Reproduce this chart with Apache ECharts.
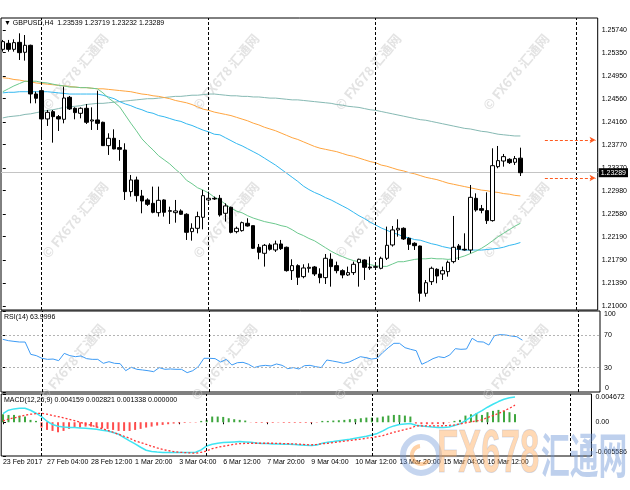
<!DOCTYPE html>
<html><head><meta charset="utf-8">
<script src="https://cdn.jsdelivr.net/npm/echarts@6/dist/echarts.min.js"></script>
<style>html,body{margin:0;padding:0;background:#fff}#c{width:630px;height:490px}</style>
</head><body><div id="c"></div>
<script>
// ---------- DATA ----------
const timeLabels = ['23 Feb 2017','27 Feb 04:00','28 Feb 12:00','1 Mar 20:00','3 Mar 04:00','6 Mar 12:00','7 Mar 20:00','9 Mar 04:00','10 Mar 12:00','13 Mar 20:00','15 Mar 04:00','16 Mar 12:00'];
const barsPerLabel = 8;
const opens = [1.25408,1.25511,1.25408,1.25528,1.25357,1.25477,1.24641,1.24698,1.24212,1.24338,
 1.24252,1.24206,1.24584,1.24395,1.24309,1.24395,1.24177,1.24195,1.24155,1.23754,
 1.23880,1.23720,1.23679,1.22964,1.23164,1.22889,1.22821,1.22763,1.22603,1.22821,
 1.22626,1.22603,1.22632,1.22575,1.22277,1.22334,1.22523,1.22821,1.22849,1.22849,
 1.22592,1.22695,1.22277,1.22294,1.22420,1.22380,1.22008,1.21905,1.22048,1.21962,
 1.22065,1.22008,1.21607,1.21693,1.21504,1.21647,1.21670,1.21550,1.21487,1.21802,
 1.21693,1.21607,1.21533,1.21573,1.21745,1.21790,1.21670,1.21664,1.21647,1.21819,
 1.22048,1.22306,1.22334,1.22162,1.22077,1.22030,1.21218,1.21418,1.21630,1.21550,
 1.21590,1.21762,1.22031,1.21974,1.21962,1.22849,1.22672,1.22638,1.22466,1.23393,
 1.23490,1.23519,1.23468,1.23539];
const highs = [1.25569,1.25569,1.25580,1.25683,1.25654,1.25488,1.24681,1.24710,1.24366,1.24366,
 1.24280,1.24767,1.24607,1.24412,1.24412,1.24469,1.24412,1.24698,1.24166,1.23966,
 1.24034,1.23851,1.23794,1.23250,1.23221,1.22993,1.22849,1.23050,1.23050,1.22832,
 1.22706,1.22821,1.22660,1.22592,1.22420,1.22620,1.22993,1.22964,1.22878,1.22907,
 1.22763,1.22706,1.22363,1.22449,1.22506,1.22380,1.22065,1.22065,1.22077,1.22122,
 1.22134,1.22020,1.21802,1.21716,1.21716,1.21733,1.21687,1.21647,1.21893,1.21905,
 1.21762,1.21630,1.21676,1.21762,1.21813,1.21802,1.21847,1.21704,1.21847,1.22363,
 1.22374,1.22489,1.22351,1.22180,1.22094,1.22036,1.21446,1.21676,1.21647,1.21676,
 1.21779,1.22546,1.22065,1.22248,1.23078,1.22935,1.22735,1.22952,1.23708,1.23748,
 1.23611,1.23536,1.23576,1.23719];
const lows = [1.25368,1.25368,1.25368,1.25225,1.25214,1.24481,1.24481,1.23897,1.24092,1.23805,
 1.24006,1.24137,1.24366,1.24206,1.24223,1.24126,1.24023,1.24023,1.23748,1.23594,
 1.23691,1.23494,1.22821,1.22878,1.22792,1.22592,1.22718,1.22592,1.22535,1.22535,
 1.22409,1.22431,1.22563,1.22134,1.22122,1.22248,1.22317,1.22792,1.22821,1.22535,
 1.22449,1.22248,1.22248,1.22277,1.22363,1.21979,1.21802,1.21676,1.21951,1.21928,
 1.21962,1.21590,1.21447,1.21361,1.21476,1.21573,1.21515,1.21390,1.21378,1.21332,
 1.21561,1.21476,1.21515,1.21533,1.21332,1.21447,1.21619,1.21642,1.21630,1.21790,
 1.22020,1.22191,1.22134,1.21962,1.21962,1.21074,1.21160,1.21361,1.21390,1.21447,
 1.21504,1.21733,1.21790,1.21951,1.21905,1.22620,1.22592,1.22409,1.22449,1.23365,
 1.23393,1.23439,1.23422,1.23232];
const closes = [1.25540,1.25408,1.25523,1.25351,1.25477,1.24641,1.24567,1.24212,1.24326,1.24252,
 1.24212,1.24572,1.24384,1.24321,1.24395,1.24155,1.24195,1.24137,1.23754,1.23880,
 1.23697,1.23691,1.22964,1.23164,1.22895,1.22803,1.22746,1.22609,1.22815,1.22609,
 1.22638,1.22632,1.22575,1.22265,1.22334,1.22535,1.22895,1.22849,1.22838,1.22563,
 1.22718,1.22265,1.22334,1.22431,1.22374,1.21991,1.21922,1.22042,1.21974,1.22065,
 1.21985,1.21607,1.21693,1.21493,1.21653,1.21664,1.21550,1.21487,1.21819,1.21676,
 1.21607,1.21533,1.21573,1.21716,1.21802,1.21664,1.21653,1.21676,1.21819,1.22042,
 1.22306,1.22334,1.22151,1.22059,1.22036,1.21218,1.21400,1.21647,1.21515,1.21607,
 1.21750,1.22008,1.21974,1.21962,1.22866,1.22649,1.22643,1.22466,1.23410,1.23496,
 1.23565,1.23462,1.23531,1.23289];
const maGreen = [1.2468,1.2473,1.2478,1.2482,1.2486,1.2486,1.2486,1.2484,1.2483,1.2481,
 1.2479,1.2478,1.2476,1.2476,1.2475,1.2475,1.2474,1.2473,1.2466,1.2457,
 1.2450,1.2442,1.2428,1.2414,1.2401,1.2387,1.2377,1.2368,1.2358,1.2351,
 1.2344,1.2335,1.2327,1.2316,1.2310,1.2303,1.2299,1.2294,1.2287,1.2282,
 1.2275,1.2268,1.2263,1.2260,1.2255,1.2251,1.2248,1.2245,1.2243,1.2241,
 1.2238,1.2236,1.2231,1.2225,1.2221,1.2216,1.2212,1.2206,1.2200,1.2194,
 1.2189,1.2185,1.2181,1.2178,1.2176,1.2174,1.2171,1.2169,1.2168,1.2168,
 1.2172,1.2176,1.2176,1.2178,1.2180,1.2181,1.2181,1.2182,1.2181,1.2181,
 1.2180,1.2181,1.2183,1.2186,1.2190,1.2194,1.2199,1.2205,1.2212,1.2219,
 1.2225,1.2231,1.2237,1.2242];
const maBlue = [1.2466,1.2467,1.2467,1.2468,1.2468,1.2468,1.2468,1.2468,1.2468,1.2467,
 1.2466,1.2465,1.2464,1.2464,1.2464,1.2464,1.2464,1.2464,1.2462,1.2459,
 1.2456,1.2451,1.2447,1.2444,1.2440,1.2437,1.2433,1.2431,1.2427,1.2425,
 1.2422,1.2419,1.2417,1.2413,1.2410,1.2406,1.2402,1.2399,1.2395,1.2394,
 1.2389,1.2384,1.2379,1.2375,1.2370,1.2365,1.2360,1.2354,1.2348,1.2342,
 1.2335,1.2328,1.2321,1.2314,1.2306,1.2300,1.2295,1.2291,1.2286,1.2282,
 1.2277,1.2272,1.2267,1.2261,1.2255,1.2250,1.2244,1.2239,1.2234,1.2230,
 1.2226,1.2223,1.2219,1.2217,1.2214,1.2213,1.2210,1.2207,1.2205,1.2202,
 1.2200,1.2198,1.2197,1.2196,1.2196,1.2196,1.2196,1.2197,1.2198,1.2199,
 1.2201,1.2204,1.2206,1.2209];
const maOrange = [1.2492,1.2491,1.2489,1.2488,1.2486,1.2485,1.2483,1.2482,1.2481,1.2480,
 1.2479,1.2478,1.2477,1.2476,1.2475,1.2475,1.2474,1.2473,1.2473,1.2472,
 1.2471,1.2470,1.2469,1.2468,1.2466,1.2464,1.2463,1.2461,1.2460,1.2458,
 1.2456,1.2453,1.2451,1.2449,1.2446,1.2442,1.2438,1.2436,1.2433,1.2431,
 1.2429,1.2427,1.2424,1.2421,1.2418,1.2414,1.2411,1.2407,1.2404,1.2401,
 1.2397,1.2393,1.2389,1.2386,1.2382,1.2378,1.2374,1.2371,1.2369,1.2367,
 1.2365,1.2362,1.2359,1.2357,1.2354,1.2351,1.2348,1.2346,1.2342,1.2340,
 1.2337,1.2334,1.2332,1.2329,1.2327,1.2324,1.2321,1.2319,1.2317,1.2314,
 1.2311,1.2309,1.2307,1.2305,1.2303,1.2301,1.2299,1.2298,1.2296,1.2295,
 1.2293,1.2292,1.2290,1.2289];
const maTeal = [1.2423,1.2425,1.2426,1.2427,1.2429,1.2430,1.2432,1.2434,1.2436,1.2437,
 1.2439,1.2441,1.2442,1.2443,1.2444,1.2446,1.2447,1.2448,1.2448,1.2449,
 1.2450,1.2451,1.2452,1.2453,1.2454,1.2455,1.2456,1.2456,1.2457,1.2458,
 1.2459,1.2460,1.2460,1.2461,1.2462,1.2462,1.2463,1.2464,1.2464,1.2463,
 1.2462,1.2461,1.2461,1.2460,1.2460,1.2459,1.2459,1.2458,1.2457,1.2457,
 1.2456,1.2455,1.2454,1.2454,1.2453,1.2452,1.2451,1.2450,1.2449,1.2448,
 1.2446,1.2445,1.2443,1.2442,1.2441,1.2439,1.2437,1.2436,1.2434,1.2432,
 1.2430,1.2428,1.2426,1.2424,1.2422,1.2420,1.2419,1.2417,1.2415,1.2413,
 1.2411,1.2409,1.2407,1.2405,1.2404,1.2402,1.2400,1.2399,1.2397,1.2395,
 1.2394,1.2393,1.2392,1.2392];
const rsiValues = [65.0,63.4,62.5,61.7,61.7,46.5,44.9,41.6,40.3,40.7,
 38.7,47.7,44.9,43.6,44.5,41.2,40.3,40.3,35.4,37.4,
 35.4,35.0,26.3,30.5,28.0,27.2,26.3,25.1,30.1,28.0,
 28.4,28.0,28.0,23.9,26.3,31.3,41.6,41.6,41.2,37.0,
 40.3,33.3,36.2,36.6,34.2,30.1,32.1,32.9,32.1,34.6,
 32.9,28.8,30.1,28.4,32.5,32.9,31.3,30.1,39.5,38.3,
 37.0,35.4,37.0,40.3,43.6,42.4,40.7,41.6,48.6,54.7,
 60.1,60.1,54.7,52.7,51.0,34.2,37.4,41.2,43.6,42.4,
 45.7,53.5,52.7,53.1,66.3,62.1,61.7,58.0,69.5,70.8,
 70.4,69.1,68.3,64.0];
const macdMain = [0.001435,0.001987,0.002208,0.002318,0.002318,0.001987,0.001490,0.000938,0.000166,-0.000386,
 -0.000662,-0.000773,-0.000856,-0.000883,-0.000938,-0.000994,-0.001076,-0.001159,-0.001325,-0.001463,
 -0.001711,-0.001987,-0.002539,-0.003091,-0.003588,-0.004140,-0.004637,-0.004858,-0.004940,-0.004996,
 -0.005023,-0.005023,-0.005023,-0.005023,-0.005023,-0.004968,-0.004582,-0.003919,-0.003643,-0.003478,
 -0.003367,-0.003312,-0.003257,-0.003202,-0.003257,-0.003312,-0.003422,-0.003505,-0.003533,-0.003588,
 -0.003616,-0.003643,-0.003643,-0.003698,-0.003754,-0.003809,-0.003836,-0.003754,-0.003478,-0.003312,
 -0.003202,-0.003064,-0.002926,-0.002815,-0.002650,-0.002484,-0.002318,-0.002098,-0.001849,-0.001435,
 -0.000938,-0.000607,-0.000386,-0.000276,-0.000221,-0.000497,-0.000607,-0.000718,-0.000800,-0.000856,
 -0.000856,-0.000773,-0.000552,-0.000276,0.000276,0.000828,0.001435,0.001932,0.002484,0.002981,
 0.003422,0.003809,0.004057,0.004159];
const macdSignal = [0.000221,0.000497,0.000718,0.000938,0.001159,0.001325,0.001435,0.001490,0.001325,0.001104,
 0.000938,0.000718,0.000497,0.000276,0.000000,-0.000276,-0.000497,-0.000773,-0.001049,-0.001325,
 -0.001656,-0.001987,-0.002318,-0.002650,-0.003091,-0.003367,-0.003643,-0.003974,-0.004250,-0.004499,
 -0.004692,-0.004858,-0.004968,-0.005023,-0.005078,-0.005134,-0.004968,-0.004747,-0.004361,-0.004140,
 -0.003974,-0.003809,-0.003643,-0.003533,-0.003505,-0.003478,-0.003478,-0.003478,-0.003478,-0.003478,
 -0.003505,-0.003533,-0.003560,-0.003588,-0.003643,-0.003698,-0.003754,-0.003671,-0.003560,-0.003478,
 -0.003367,-0.003257,-0.003119,-0.003008,-0.002898,-0.002788,-0.002650,-0.002539,-0.002374,-0.002208,
 -0.001932,-0.001656,-0.001435,-0.001214,-0.000994,-0.000607,-0.000607,-0.000607,-0.000607,-0.000607,
 -0.000580,-0.000524,-0.000442,-0.000276,-0.000110,0.000055,0.000221,0.000386,0.000773,0.001104,
 0.001435,0.001877,0.002318,0.002821];
const macdHist = [0.00132,0.00121,0.00121,0.00110,0.00094,0.00039,0.00022,-0.00088,-0.00127,-0.00144,
 -0.00166,-0.00144,-0.00110,-0.00088,-0.00088,-0.00072,-0.00072,-0.00088,-0.00099,-0.00110,
 -0.00127,-0.00144,-0.00144,-0.00144,-0.00127,-0.00110,-0.00088,-0.00072,-0.00055,-0.00044,
 -0.00033,-0.00022,-0.00017,-0.00011,-0.00006,-0.00006,0.00022,0.00039,0.00094,0.00094,
 0.00088,0.00066,0.00050,0.00039,0.00028,-0.00004,-0.00011,-0.00011,-0.00011,-0.00011,
 -0.00006,-0.00011,-0.00011,-0.00011,-0.00011,-0.00011,-0.00011,-0.00006,0.00022,0.00022,
 0.00028,0.00033,0.00039,0.00050,0.00055,0.00066,0.00077,0.00077,0.00077,0.00094,
 0.00110,0.00121,0.00121,0.00110,0.00094,-0.00022,-0.00033,-0.00033,-0.00033,-0.00028,
 -0.00022,-0.00006,0.00022,0.00039,0.00110,0.00132,0.00149,0.00121,0.00166,0.00188,
 0.00204,0.00188,0.00166,0.001338];
const priceTicks = [1.21000,1.21390,1.21790,1.22190,1.22580,1.22980,1.23370,1.23770,1.24160,1.24560,1.24950,1.25350,1.25740];
const rsiTicks = [0,30,70,100];
const rsiLevels = [30,70];
const macdTicks = [-0.005586,0,0.004672];
const macdTickLabels = ['-0.005586','0.00','0.004672'];
const bidPrice = 1.23289;
const alertLevels = [1.23851,1.23198];
const weekSeparators = [7,37,67,103];
const headerMain = '\u25BC GBPUSD,H4  1.23539 1.23719 1.23232 1.23289';
const headerRsi = 'RSI(14) 63.9996';
const headerMacd = 'MACD(12,26,9) 0.004159 0.002821 0.001338 0.000000';

// ---------- LAYOUT / STYLE ----------
const FONT = '"Liberation Sans", Arial, sans-serif';
const X_MIN = -0.32, X_MAX = 106.89;
const PRICE_MIN = 1.20931, PRICE_MAX = 1.25946;
const alertFrom = 97.4, alertTo = 106.5;
const idx = a => a.map((v, i) => [i, v]);
const sepLines = weekSeparators.map(b => ({xAxis: b, lineStyle: {color: '#000', type: [3, 2], width: 1}, label: {show: false}}));
const labelStyle = {fontSize: 7, color: '#000', fontFamily: FONT, interval: 0, hideOverlap: false, showMinLabel: true, showMaxLabel: true};

function xAxisFor(g, show) {
  const tickVals = timeLabels.map((_, k) => k * barsPerLabel);
  return {
    type: 'value', gridIndex: g, min: X_MIN, max: X_MAX, show: true,
    axisLine: {show: false}, splitLine: {show: false},
    axisTick: {show: show, customValues: tickVals, length: 2, lineStyle: {color: '#000'}},
    axisLabel: Object.assign({show: show, customValues: tickVals, align: 'left', margin: 3,
      formatter: v => timeLabels[Math.round(v / barsPerLabel)] || ''}, labelStyle)
  };
}

const wmPos = [[75,72],[226,72],[368,72],[516,72],[75,220],[226,220],[368,220],[516,220],[72,362],[224,362],[367,362],[515,362]];
const graphics = wmPos.map(([x, y]) => ({
  type: 'text', x: x, y: y, rotation: 50 * Math.PI / 180, z: 0, silent: true,
  style: {text: '\u00A9 FX678 汇通网', fill: 'rgba(200,200,200,0.5)', font: 'bold 13px "Noto Sans CJK SC", sans-serif', align: 'center', verticalAlign: 'middle'}
}));
graphics.push(
  {type: 'circle', x: 421, y: 455, z: 10, silent: true, shape: {cx: 0, cy: 0, r: 18}, style: {fill: 'none', stroke: 'rgba(110,150,215,0.4)', lineWidth: 6}},
  {type: 'arc', x: 421, y: 455, z: 10, silent: true, shape: {cx: 0, cy: 0, r: 9, startAngle: 0.6, endAngle: 4.6}, style: {fill: 'none', stroke: 'rgba(255,165,80,0.5)', lineWidth: 4}},
  {type: 'text', x: 437, y: 455, scaleX: 0.56, z: 10, silent: true, style: {text: 'FX678', font: 'bold 62px ' + FONT, fill: 'rgba(255,170,90,0.45)', stroke: 'rgba(110,150,215,0.3)', lineWidth: 1, align: 'left', verticalAlign: 'middle'}},
  {type: 'text', x: 541, y: 455, scaleX: 0.6, z: 10, silent: true, style: {text: '汇通网', font: 'bold 48px "Noto Sans CJK SC", sans-serif', fill: 'rgba(110,150,215,0.45)', align: 'left', verticalAlign: 'middle'}},
  // RSI bottom scale label (MT4 draws "0" just inside the window's lower edge)
  {type: 'text', x: 605, y: 388, z: 5, silent: true, style: {text: String(rsiTicks[0]), font: '7px ' + FONT, fill: '#000', align: 'left', verticalAlign: 'middle'}}
);

const option = {
  animation: false,
  backgroundColor: '#fff',
  title: [
    {text: headerMain, left: 4, top: 20, padding: 0, textStyle: {fontSize: 7, fontWeight: 'normal', color: '#000', fontFamily: FONT}},
    {text: headerRsi, left: 4, top: 314, padding: 0, textStyle: {fontSize: 7, fontWeight: 'normal', color: '#000', fontFamily: FONT}},
    {text: headerMacd, left: 4, top: 397, padding: 0, textStyle: {fontSize: 7, fontWeight: 'normal', color: '#000', fontFamily: FONT}}
  ],
  graphic: graphics,
  grid: [
    {left: 1, top: 18, width: 599, height: 292, show: true, borderColor: '#000', borderWidth: 1, backgroundColor: 'transparent'},
    {left: 1, top: 311, width: 599, height: 81, show: true, borderColor: '#000', borderWidth: 1, backgroundColor: 'transparent'},
    {left: 1, top: 394, width: 599, height: 62, show: true, borderColor: '#000', borderWidth: 1, backgroundColor: 'transparent'}
  ],
  xAxis: [xAxisFor(0, false), xAxisFor(1, false), xAxisFor(2, true)],
  yAxis: [
    {type: 'value', gridIndex: 0, position: 'right', min: PRICE_MIN, max: PRICE_MAX,
      axisLine: {show: false}, splitLine: {show: false},
      axisTick: {show: true, customValues: priceTicks, length: 3, lineStyle: {color: '#000'}},
      axisLabel: Object.assign({customValues: priceTicks, margin: 4, formatter: v => v.toFixed(5)}, labelStyle)},
    {type: 'value', gridIndex: 1, position: 'right', min: 0, max: 100,
      axisLine: {show: false}, splitLine: {show: false},
      axisTick: {show: true, customValues: rsiTicks, length: 3, lineStyle: {color: '#000'}},
      axisLabel: Object.assign({customValues: rsiTicks.filter(v => v > 0), margin: 4, verticalAlignMaxLabel: 'top', formatter: v => String(v)}, labelStyle)},
    {type: 'value', gridIndex: 2, position: 'right', min: macdTicks[0], max: macdTicks[2],
      axisLine: {show: false}, splitLine: {show: false},
      axisTick: {show: true, customValues: macdTicks, length: 3, lineStyle: {color: '#000'}},
      axisLabel: Object.assign({customValues: macdTicks, margin: 4, verticalAlignMinLabel: 'bottom', verticalAlignMaxLabel: 'top',
        formatter: v => { const i = macdTicks.findIndex(t => Math.abs(t - v) < 1e-9); return i >= 0 ? macdTickLabels[i] : ''; }}, labelStyle)}
  ],
  series: [
    {type: 'line', name: 'MA teal', xAxisIndex: 0, yAxisIndex: 0, data: idx(maTeal), symbol: 'none', lineStyle: {color: '#86b9b3', width: 1}, z: 1},
    {type: 'line', name: 'MA orange', xAxisIndex: 0, yAxisIndex: 0, data: idx(maOrange), symbol: 'none', lineStyle: {color: '#ffa53f', width: 1}, z: 1},
    {type: 'line', name: 'MA blue', xAxisIndex: 0, yAxisIndex: 0, data: idx(maBlue), symbol: 'none', lineStyle: {color: '#33b8f0', width: 1}, z: 1},
    {type: 'line', name: 'MA green', xAxisIndex: 0, yAxisIndex: 0, data: idx(maGreen), symbol: 'none', lineStyle: {color: '#6cc98e', width: 1}, z: 1},
    {type: 'candlestick', name: 'GBPUSD', xAxisIndex: 0, yAxisIndex: 0,
      data: opens.map((o, i) => [i, o, closes[i], lows[i], highs[i]]),
      encode: {x: 0, y: [1, 2, 3, 4]},
      barWidth: 4, z: 3,
      itemStyle: {color: '#ffffff', color0: '#000000', borderColor: '#000000', borderColor0: '#000000', borderWidth: 1},
      markLine: {
        silent: true, symbol: ['none', 'none'], animation: false, z: 2, precision: 6,
        label: {show: false},
        data: sepLines.concat([
          {yAxis: bidPrice, lineStyle: {color: '#c4c4c4', type: 'solid', width: 1},
            label: {show: true, position: 'end', distance: 1, formatter: bidPrice.toFixed(5), backgroundColor: '#000', color: '#fff', fontSize: 7, fontFamily: FONT, padding: [1, 2, 1, 2]}}
        ]).concat(alertLevels.map(l => [
          {coord: [alertFrom, l], symbol: 'none', lineStyle: {color: '#ff5a1f', type: [3, 2], width: 1}, label: {show: false}},
          {coord: [alertTo, l], symbol: 'arrow', symbolSize: [5, 6]}
        ]))
      }
    },
    {type: 'line', name: 'RSI', xAxisIndex: 1, yAxisIndex: 1, data: idx(rsiValues), symbol: 'none', lineStyle: {color: '#3d9bf5', width: 1},
      markLine: {silent: true, symbol: ['none', 'none'], animation: false, precision: 6, label: {show: false},
        data: rsiLevels.map(l => ({yAxis: l, lineStyle: {color: '#b4b4b4', type: [2, 2], width: 1}})).concat(sepLines)}},
    {type: 'bar', name: 'MACD hist', xAxisIndex: 2, yAxisIndex: 2, data: idx(macdHist), barWidth: 2,
      itemStyle: {color: p => p.value[1] >= 0 ? '#3ea63e' : '#ff4d4d'},
      markLine: {silent: true, symbol: ['none', 'none'], animation: false, label: {show: false}, data: sepLines}},
    {type: 'line', name: 'MACD', xAxisIndex: 2, yAxisIndex: 2, data: idx(macdMain), symbol: 'none', lineStyle: {color: '#3fe4f2', width: 1.5}},
    {type: 'line', name: 'Signal', xAxisIndex: 2, yAxisIndex: 2, data: idx(macdSignal), symbol: 'none', lineStyle: {color: '#ff3535', width: 1.3, type: [2, 2]}}
  ]
};
const chart = echarts.init(document.getElementById('c'), null, {renderer: 'canvas'});
chart.setOption(option);
</script></body></html>
